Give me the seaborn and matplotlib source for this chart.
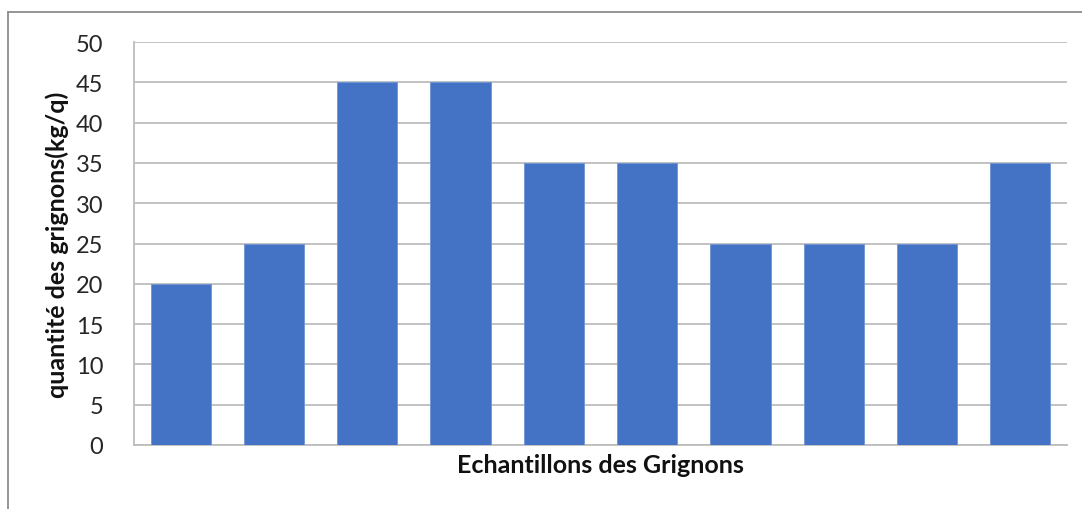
import matplotlib
matplotlib.use("Agg")
import matplotlib.pyplot as plt
import seaborn as sns
import pandas as pd
from matplotlib.lines import Line2D

# Grignon samples and measured quantities (kg/q)
samples = ["E1", "E2", "E3", "E4", "E5", "E6", "E7", "E8", "E9", "E10"]
quantities = [20, 25, 45, 45, 35, 35, 25, 25, 25, 35]
y_ticks = [0, 5, 10, 15, 20, 25, 30, 35, 40, 45, 50]

df = pd.DataFrame({"sample": samples, "quantity": quantities})

sns.set_theme(style="white")
plt.rcParams["font.family"] = ["Lato", "DejaVu Sans"]

W, H = 1082, 510
fig = plt.figure(figsize=(W / 100, H / 100), dpi=100)
ax = fig.add_axes([134 / W, 1 - 446 / H, (1067 - 134) / W, (446 - 43) / H])

sns.barplot(data=df, x="sample", y="quantity", color="#4472C4",
            saturation=1, width=0.645, edgecolor="#6F93D3", linewidth=0.6,
            ax=ax, zorder=3)

ax.set_ylim(0, 50)
ax.set_yticks(y_ticks)
ax.set_xlim(-0.5, len(samples) - 0.5)
ax.set_xticks([])
ax.yaxis.grid(True, color="#BDBDBD", linewidth=1.3, zorder=0)
ax.set_axisbelow(True)

for s in ["top", "right"]:
    ax.spines[s].set_visible(False)
ax.spines["left"].set_color("#BDBDBD")
ax.spines["left"].set_linewidth(1.3)
ax.spines["bottom"].set_color("#BDBDBD")
ax.spines["bottom"].set_linewidth(1.3)

ax.tick_params(axis="y", length=0, pad=22, labelsize=17, labelcolor="#262626")

ax.set_xlabel("Echantillons des Grignons", fontsize=18, fontweight="bold",
              color="#111111", labelpad=6)
ax.set_ylabel("quantité des grignons(kg/q)", fontsize=18, fontweight="bold",
              color="#111111", labelpad=5)

# outer chart frame (top and left edges)
fig.add_artist(Line2D([8 / W, 8 / W], [0, 1 - 13 / H], transform=fig.transFigure,
                      color="#8C8C8C", linewidth=1.3))
fig.add_artist(Line2D([8 / W, 1], [1 - 13 / H, 1 - 13 / H], transform=fig.transFigure,
                      color="#8C8C8C", linewidth=1.3))

fig.savefig("out.png", dpi=100, facecolor="white")
